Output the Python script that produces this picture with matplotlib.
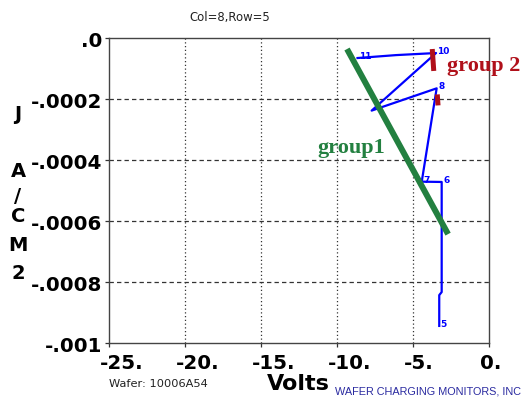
import matplotlib
matplotlib.use("Agg")
import matplotlib.pyplot as plt
from matplotlib.transforms import ScaledTranslation

# I-V trace (volts, current density A/cm^2), in measurement order
volts = [-3.27, -3.27, -3.11, -3.11, -4.42, -3.44, -7.71, -3.48, -6.10, -8.64]
current = [-0.000944, -0.000843, -0.000833, -0.000472, -0.000471,
           -0.000165, -0.000238, -0.0000492, -0.0000560, -0.0000656]
point_labels = ["5", "", "", "6", "7", "8", "", "10", "", "11"]

# group markers
group1_v = [-9.33, -2.69]
group1_j = [-0.0000361, -0.000643]
group2a_v = [-3.73, -3.63]
group2a_j = [-0.0000361, -0.000108]
group2b_v = [-3.40, -3.35]
group2b_j = [-0.000185, -0.000221]

x_ticks = [-25, -20, -15, -10, -5, 0]
x_tick_labels = ["-25.", "-20.", "-15.", "-10.", "-5.", "0."]
y_ticks = [0.0, -0.0002, -0.0004, -0.0006, -0.0008, -0.001]
y_tick_labels = [".0", "-.0002", "-.0004", "-.0006", "-.0008", "-.001"]

plt.rcParams["font.family"] = ["DejaVu Sans"]

fig = plt.figure(figsize=(5.22, 4.06), dpi=100)
ax = fig.add_axes([0.2079, 0.1527, 0.7289, 0.7512])
ax.set_xlim(-25, 0)
ax.set_ylim(-0.001, 0.0)

# grid
for xv in x_ticks[1:-1]:
    ax.axvline(xv, color="#333333", lw=0.9, ls=(0, (1, 2)), zorder=1)
for yv in y_ticks[1:-1]:
    ax.axhline(yv, color="#333333", lw=0.9, ls=(0, (3.5, 2.5)), zorder=1)

ax.set_xticks(x_ticks)
ax.set_xticklabels(x_tick_labels, fontsize=14.3, fontweight="bold")
ax.set_yticks(y_ticks)
ax.set_yticklabels(y_tick_labels, fontsize=14.3, fontweight="bold")
ax.tick_params(axis="x", direction="out", length=3, width=0.9, pad=4.5, color="#333333")
ax.tick_params(axis="y", direction="out", length=3, width=0.9, pad=1.5, color="#333333")
shift = ScaledTranslation(-9 / 100, 0, fig.dpi_scale_trans)
for lab in ax.get_xticklabels():
    lab.set_ha("left")
    lab.set_transform(lab.get_transform() + shift)
for s in ax.spines.values():
    s.set_color("#444444")
    s.set_linewidth(1.0)

# I-V trace with point numbers
ax.plot(volts, current, color="#0000ff", lw=1.6, zorder=3)
for v, j, t in zip(volts, current, point_labels):
    if t:
        ax.annotate(t, (v, j), xytext=(1, -1.5), textcoords="offset points",
                    fontsize=6.5, fontweight="bold", color="#0000ff",
                    ha="left", va="bottom", zorder=3)

# group markers
ax.plot(group1_v, group1_j, color="#238040", lw=4.3, solid_capstyle="butt", zorder=4)
ax.plot(group2a_v, group2a_j, color="#b0101a", lw=3.6, solid_capstyle="butt", zorder=4)
ax.plot(group2b_v, group2b_j, color="#b0101a", lw=3.6, solid_capstyle="butt", zorder=4)
ax.text(-11.3, -0.000357, "group1", color="#238040", fontsize=16, fontweight="bold",
        family=["Liberation Serif"], ha="left", va="center", zorder=5)
ax.text(-2.78, -0.0000885, "group 2", color="#b0101a", fontsize=16, fontweight="bold",
        family=["Liberation Serif"], ha="left", va="center", zorder=5, clip_on=False)

# axis titles
fig.text(298 / 522, 1 - 384 / 406, "Volts", fontsize=16, fontweight="bold",
         ha="center", va="center")
ylab = [("J", 114), ("A", 172), ("/", 196), ("C", 217), ("M", 246), ("2", 274)]
for ch, py in ylab:
    fig.text(18 / 522, 1 - py / 406, ch, fontsize=14, fontweight="bold",
             ha="center", va="center")

fig.text(230 / 522, 1 - 17 / 406, "Col=8,Row=5", fontsize=8.4, ha="center", va="center",
         color="#222222")
fig.text(109 / 522, 1 - 384 / 406, "Wafer: 10006A54", fontsize=8.2, ha="left", va="center",
         color="#222222")
fig.text(335 / 522, 1 - 392 / 406, "WAFER CHARGING MONITORS, INC", fontsize=7.8,
         family=["Liberation Sans"], ha="left", va="center", color="#2a2aa0")

fig.savefig("out.png", dpi=100)
